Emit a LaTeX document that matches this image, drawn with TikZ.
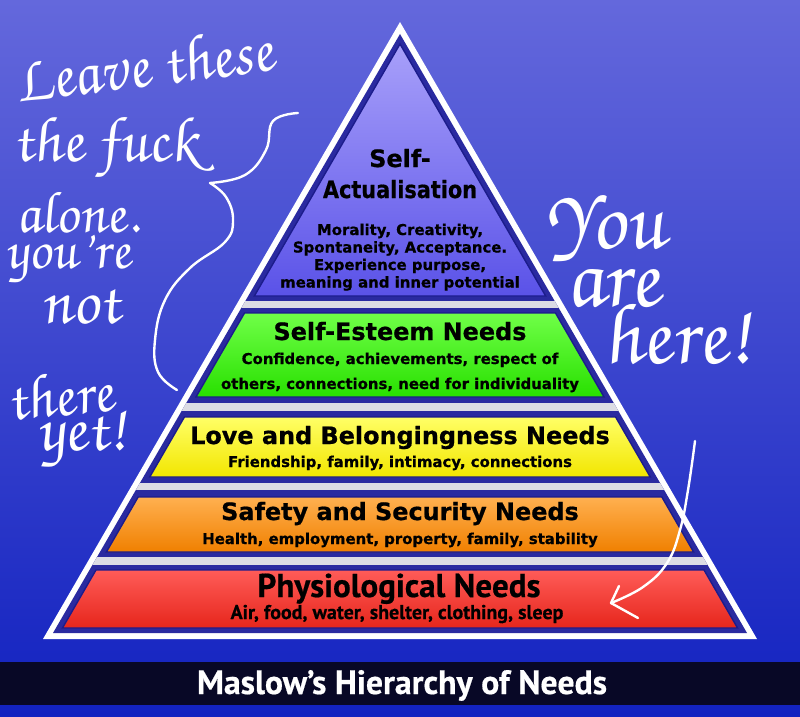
\documentclass[tikz,border=0pt]{standalone}
\usepackage[T1]{fontenc}
\usepackage{fontspec}
\usepackage{graphicx}
\usetikzlibrary{positioning}
\newfontfamily\layerfont{DejaVu Sans}[BoldFeatures={FakeBold=0.7}]
\newfontfamily\narrowfont{PT Sans}[BoldFeatures={FakeBold=0.5}]
\newcommand\scrawlfont[1]{\fontencoding{T1}\fontfamily{pzc}\fontseries{mb}\fontshape{it}\fontsize{#1}{#1}\selectfont}

\definecolor{bgtop}{HTML}{6468DC}
\definecolor{bgmid}{HTML}{2A2EAE}
\definecolor{bgbot}{HTML}{1222C0}
\definecolor{pyrblue}{HTML}{2A2AA0}
\definecolor{edgeblue}{HTML}{1C1C8C}
\definecolor{stripe}{HTML}{DCDCE4}
\definecolor{bar}{HTML}{080826}
\definecolor{satop}{HTML}{A8A0FA}
\definecolor{sabot}{HTML}{5A52E8}
\definecolor{estop}{HTML}{70FF48}
\definecolor{esbot}{HTML}{28E000}
\definecolor{lovetop}{HTML}{FFFF66}
\definecolor{lovebot}{HTML}{F2E600}
\definecolor{safetop}{HTML}{FFB050}
\definecolor{safebot}{HTML}{F08000}
\definecolor{phystop}{HTML}{FF5C58}
\definecolor{physbot}{HTML}{E6261C}

\tikzset{
  layertitle/.style={anchor=base, inner sep=0pt, font=\layerfont\bfseries\fontsize{17}{20}\selectfont},
  layertext/.style={anchor=base, inner sep=0pt, font=\layerfont\bfseries\fontsize{10.6}{13}\selectfont},
  scrawl/.style={draw=white, line width=1.7pt, line cap=round, line join=round},
  hand/.style={text=white, inner sep=0pt, xslant=-0.15}
}

\begin{document}
\begin{tikzpicture}[x=0.025cm, y=-0.025cm]
    \useasboundingbox (0,0) rectangle (800,716);
    \shade[top color=bgtop, middle color=bgmid, bottom color=bgbot] (0,0) rectangle (800,716);
    \fill[bar] (0,662) rectangle (800,705);

    % pyramid frame
    \fill[white] (400,22) -- (757,639) -- (43,639) -- cycle;
    \fill[pyrblue] (400,34) -- (747,633) -- (53,633) -- cycle;
    \begin{scope}
        \clip (400,34) -- (747,633) -- (53,633) -- cycle;
        \foreach \ya/\yb in {301/308, 403/411, 483/490, 557/565}
            \fill[stripe] (0,\ya) rectangle (800,\yb);
    \end{scope}

    % layers
    \foreach \ya/\yb/\ct/\cb in {44/296/satop/sabot, 313/397/estop/esbot, 417/477/lovetop/lovebot,
                                 497/552/safetop/safebot, 570/628/phystop/physbot}{
        \pgfmathsetmacro\wa{0.578*(\ya-44)}
        \pgfmathsetmacro\wb{0.578*(\yb-44)}
        \shadedraw[top color=\ct, bottom color=\cb, draw=edgeblue, line width=1pt]
            (400-\wa,\ya) -- (400+\wa,\ya) -- (400+\wb,\yb) -- (400-\wb,\yb) -- cycle;
    }

    \node[layertitle] (sa1) at (400,167) {Self-};
    \node[layertitle] (sa2) at (400,198) {\scalebox{0.87}[1]{Actualisation}};
    \node[layertext] (sa3) at (400,235) {Morality, Creativity,};
    \node[layertext] (sa4) at (400,252.5) {Spontaneity, Acceptance.};
    \node[layertext] (sa5) at (400,270) {Experience purpose,};
    \node[layertext] (sa6) at (400,287.5) {meaning and inner potential};

    \node[layertitle] (es1) at (400,340) {Self-Esteem Needs};
    \node[layertext] (es2) at (400,364) {Confidence, achievements, respect of};
    \node[layertext] (es3) at (400,389) {others, connections, need for individuality};

    \node[layertitle] (lb1) at (400,444) {Love and Belongingness Needs};
    \node[layertext] (lb2) at (400,467) {Friendship, family, intimacy, connections};

    \node[layertitle] (ss1) at (400,520) {Safety and Security Needs};
    \node[layertext] (ss2) at (400,544) {Health, employment, property, family, stability};

    \node[anchor=base, inner sep=0pt, font=\narrowfont\bfseries\fontsize{23.5}{26}\selectfont] (ph1) at (399,597) {Physiological Needs};
    \node[anchor=base, inner sep=0pt, font=\narrowfont\bfseries\fontsize{14.2}{16}\selectfont] (ph2) at (397,619) {Air, food, water, shelter, clothing, sleep};

    \node[anchor=base, inner sep=0pt, text=white, font=\narrowfont\bfseries\fontsize{24}{28}\selectfont] (title) at (402,694) {Maslow’s Hierarchy of Needs};

    % scribbles
    \node[hand, font=\scrawlfont{46}, rotate=7] (leave) at (142,64) {Leave these};
    \node[hand, font=\scrawlfont{46}] (fuck) at (105,148) {the fuck};
    \node[hand, font=\scrawlfont{42}] (alone) at (76,212) {alone.};
    \node[hand, font=\scrawlfont{41}] (youre) at (68,260) {you're};
    \node[hand, font=\scrawlfont{48}] (not) at (80,305) {not};
    \node[hand, font=\scrawlfont{44}, rotate=5] (there) at (58,394) {there};
    \node[hand, font=\scrawlfont{48}] (yet) at (82,440) {yet!};

    \node[hand, font=\scrawlfont{62}] (you) at (605,228) {You};
    \node[hand, font=\scrawlfont{64}] (are) at (612,288) {are};
    \node[hand, font=\scrawlfont{62}] (here) at (675,333) {here!};

    \coordinate (bracetop) at (298,113);
    \coordinate (bracetip) at (210,183);
    \coordinate (bracebot) at (177,390);
    \draw[scrawl] plot[smooth, tension=0.7] coordinates {(bracetop) (273,121) (266,150) (245,175) (bracetip)};
    \draw[scrawl] plot[smooth, tension=0.7] coordinates {(bracetip) (226,197) (233,220) (225,242) (190,268) (165,300) (155,340) (158,372) (bracebot)};

    \coordinate (arrowstart) at (695,441);
    \coordinate (arrowtip) at (611,603);
    \draw[scrawl] plot[smooth, tension=0.7] coordinates {(arrowstart) (688,490) (680,530) (667,563) (643,587) (arrowtip)};
    \draw[scrawl] (arrowtip) -- ++(8,-17);
    \draw[scrawl] (arrowtip) -- ++(27,15);
\end{tikzpicture}
\end{document}
